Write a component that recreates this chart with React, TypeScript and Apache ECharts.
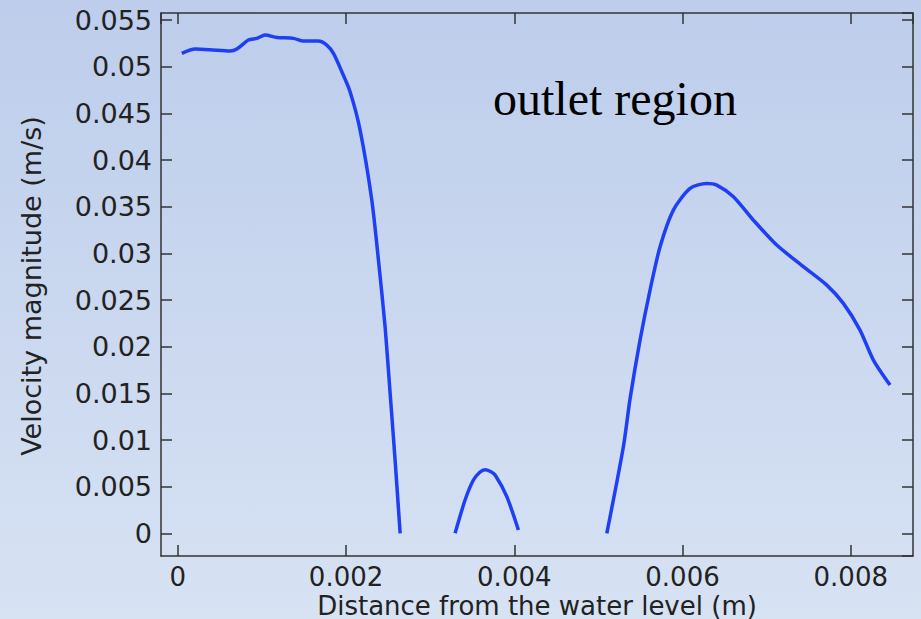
import React, { useEffect, useRef } from "react";
import * as echarts from "echarts";

// Distance from the water level (m), velocity magnitude (m/s)
const segment1: [number, number][] = [
  [0.0000476, 0.05143], [0.000206, 0.05189], [0.000384, 0.05182], [0.000622, 0.05168],
  [0.000701, 0.05189], [0.000839, 0.05286], [0.000939, 0.05304], [0.001038, 0.05339],
  [0.001177, 0.05314], [0.001374, 0.05304], [0.001493, 0.05275], [0.001671, 0.05275],
  [0.001771, 0.05232], [0.00185, 0.05143], [0.00195, 0.04946], [0.002048, 0.04732],
  [0.002167, 0.04321], [0.002306, 0.03571], [0.002385, 0.02928], [0.002464, 0.02214],
  [0.002524, 0.0150], [0.002583, 0.00785], [0.002643, 0.0],
];
const segment2: [number, number][] = [
  [0.003296, 0.0], [0.003415, 0.00357], [0.003514, 0.00571], [0.00359, 0.00655],
  [0.003653, 0.00682], [0.003712, 0.00665], [0.003772, 0.00625], [0.003911, 0.00393],
  [0.004049, 0.00036],
];
const segment3: [number, number][] = [
  [0.0051, 0.0], [0.005297, 0.00928], [0.005377, 0.01446], [0.005495, 0.02071],
  [0.005614, 0.02607], [0.005733, 0.03071], [0.005891, 0.03464], [0.00609, 0.03696],
  [0.006288, 0.0375], [0.006407, 0.03732], [0.006605, 0.03607], [0.006842, 0.03357],
  [0.00712, 0.03089], [0.007437, 0.02857], [0.007715, 0.0266], [0.007912, 0.02464],
  [0.00811, 0.02178], [0.008269, 0.01857], [0.008467, 0.01589],
];

const xRange = [-0.0002, 0.00874];
const yRange = [-0.00243, 0.05576];
const xTitle = "Distance from the water level (m)";
const yTitle = "Velocity magnitude (m/s)";
const annotation = "outlet region";

const fmt = (v: number) => String(parseFloat(v.toFixed(4)));

export default function App() {
  const ref = useRef<HTMLDivElement>(null);
  useEffect(() => {
    if (!ref.current) return;
    const chart = echarts.init(ref.current, undefined, { renderer: "svg" });
    const axisLine = { show: true, onZero: false, lineStyle: { color: "#333", width: 1.5 } };
    const axisTick = { show: true, inside: true, length: 11, lineStyle: { color: "#333", width: 1.5 } };
    const label = {
      fontFamily: "DejaVu Sans",
      fontSize: 27,
      lineHeight: 20,
      color: "#222",
      showMinLabel: false,
      showMaxLabel: false,
      formatter: fmt,
    };
    const lineStyle = { color: "#1f3ff5", width: 3.5 };
    chart.setOption({
      animation: false,
      backgroundColor: new echarts.graphic.LinearGradient(0, 0, 0, 1, [
        { offset: 0, color: "#bdcdeb" },
        { offset: 1, color: "#d7e2f3" },
      ]),
      grid: { left: 161, top: 13, right: 8, bottom: 63, containLabel: false },
      xAxis: [
        {
          type: "value", min: xRange[0], max: xRange[1], splitNumber: 5,
          axisLine, axisTick, splitLine: { show: false },
          axisLabel: { ...label, fontSize: 26, margin: 11 },
        },
        {
          type: "value", position: "top", min: xRange[0], max: xRange[1], splitNumber: 5,
          axisLine, axisTick, splitLine: { show: false }, axisLabel: { show: false },
        },
      ],
      yAxis: [
        {
          type: "value", min: yRange[0], max: yRange[1], splitNumber: 11,
          axisLine, axisTick, splitLine: { show: false },
          axisLabel: { ...label, margin: 9 },
        },
        {
          type: "value", position: "right", min: yRange[0], max: yRange[1], splitNumber: 11,
          axisLine, axisTick, splitLine: { show: false }, axisLabel: { show: false },
        },
      ],
      series: [segment1, segment2, segment3].map((d) => ({
        type: "line",
        data: d,
        smooth: 0.25,
        showSymbol: false,
        lineStyle,
        xAxisIndex: 0,
        yAxisIndex: 0,
      })),
      graphic: [
        {
          type: "text", x: 537, y: 606,
          style: { text: xTitle, fontFamily: "DejaVu Sans", fontSize: 26, lineHeight: 20, fill: "#222", align: "center", verticalAlign: "middle" },
        },
        {
          type: "text", x: 31, y: 286, rotation: Math.PI / 2,
          style: { text: yTitle, fontFamily: "DejaVu Sans", fontSize: 27, fill: "#222", align: "center", verticalAlign: "middle" },
        },
        {
          type: "text", x: 493, y: 98,
          style: { text: annotation, fontFamily: "Liberation Serif", fontSize: 48, fill: "#000", align: "left", verticalAlign: "middle" },
        },
      ],
    });
    return () => chart.dispose();
  }, []);
  return <div ref={ref} style={{ position: "fixed", left: 0, top: 0, width: 921, height: 619 }} />;
}
